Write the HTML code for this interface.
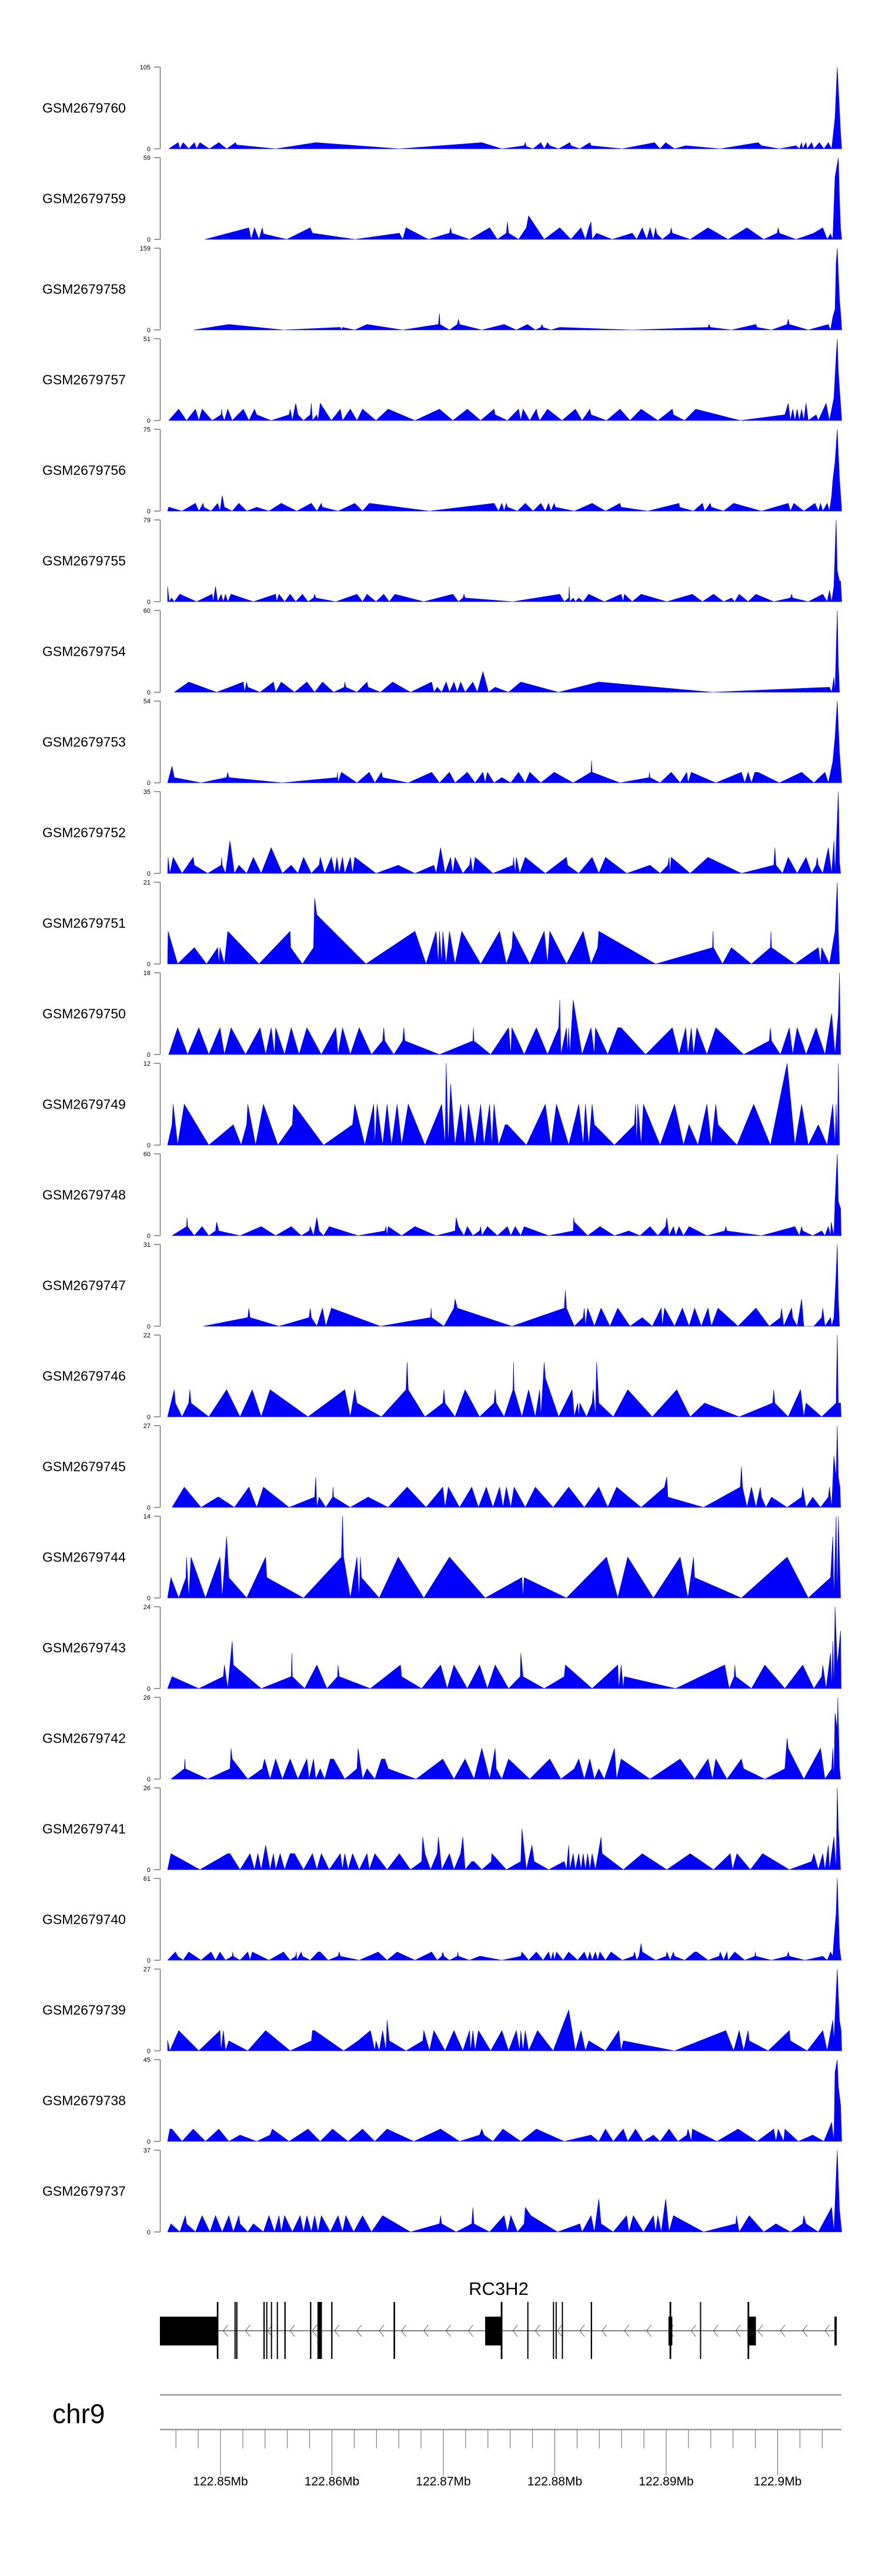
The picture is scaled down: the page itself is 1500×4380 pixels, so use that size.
<!DOCTYPE html>
<html><head><meta charset="utf-8"><title>Coverage tracks RC3H2</title>
<style>html,body{margin:0;padding:0;background:#fff}svg{display:block}text{font-family:"Liberation Sans",Arial,sans-serif}</style>
</head><body>
<svg id="chart" width="1500" height="4380" viewBox="0 0 1500 4380" xmlns="http://www.w3.org/2000/svg">
<rect x="0" y="0" width="1500" height="4380" fill="#fff"/>
<g id="tracks"></g>
<g id="gene"></g>
<g id="axis"></g>
</svg>
<script>
const sampleNames = ["GSM2679760","GSM2679759","GSM2679758","GSM2679757","GSM2679756","GSM2679755","GSM2679754","GSM2679753","GSM2679752","GSM2679751","GSM2679750","GSM2679749","GSM2679748","GSM2679747","GSM2679746","GSM2679745","GSM2679744","GSM2679743","GSM2679742","GSM2679741","GSM2679740","GSM2679739","GSM2679738","GSM2679737"];
const yMax = [105,59,159,51,75,79,60,54,35,21,18,12,60,31,22,27,14,24,26,26,61,27,45,37];
// coverage points: [kb offset from 122,845.25 kb, coverage]
const cov60 = [[0.1,0],[0.95,8],[1.1,0],[1.4,8],[1.9,0],[2.4,8],[2.6,0],[2.9,8],[3.75,0],[4.6,8],[5.3,0],[6.1,8],[6.2,5],[9.7,0],[13.3,8],[20.8,0],[28.2,8],[30,0],[32,4],[32.1,8],[32.2,3],[32.8,0],[33.5,8],[33.8,0],[34.1,8],[34.3,4],[35.1,0],[36.1,8],[36.2,4],[37,0],[37.9,8],[38,4],[40.8,0],[43.7,8],[44.2,0],[44.7,8],[45.5,0],[46.5,4],[49.6,0],[53,8],[53.3,4],[54.9,0],[56.4,4],[56.7,0],[56.9,8],[57,0],[57.3,8],[57.4,0],[57.8,8],[58,0],[58.5,8],[58.9,0],[59.3,8],[59.6,0],[59.9,40],[60.1,105],[60.3,50],[60.4,20],[60.5,0]];
const cov59 = [[3.35,0],[7.3,8.4],[7.5,0],[7.8,8.4],[8.2,0],[8.5,8.4],[8.6,4],[10.7,0],[12.8,8.4],[13,4.5],[16.8,0],[20.8,4.5],[21.1,0],[21.4,8.4],[23.4,0],[25.3,4.5],[25.4,8.4],[25.5,4.5],[27.1,0],[28.9,8.4],[29.6,0],[30.4,4.5],[30.5,12.7],[30.6,4.5],[31.5,0],[32.2,8.4],[32.4,17],[33.8,0],[35.2,8.4],[36.2,0],[37.1,8.4],[37.5,0],[37.8,8.4],[38,12.7],[38.1,0],[38.5,4.5],[39.9,0],[41.7,4.5],[42.1,0],[42.6,8.4],[43,0],[43.3,8.4],[43.6,0],[43.8,8.4],[43.9,4],[44.4,0],[45.1,4.5],[45.2,8.4],[45.3,4.5],[46.9,0],[48.5,8.4],[50.3,0],[52,8.4],[53.5,0],[54.7,4.5],[54.8,8.4],[54.9,4.5],[56.4,0],[58,4.5],[58.8,8.4],[59.2,0],[59.5,4],[59.7,0],[59.9,45],[60.2,59],[60.3,30],[60.4,8],[60.5,0]];
const cov58 = [[2.35,0],[5.5,10.7],[10.4,0],[15.5,5],[15.6,0],[15.7,5],[16.8,0],[17.9,10.7],[21.1,0],[24.3,10.7],[24.4,32],[24.45,10.7],[25.3,0],[26,10.7],[26.1,21],[26.2,10.7],[28.2,0],[30.2,10.7],[31.3,0],[32.3,10.7],[33,0],[33.5,5],[33.6,10.7],[33.7,5],[34.4,0],[35.2,5],[41.7,0],[48.5,5],[48.6,10.7],[48.7,5],[50.6,0],[52.8,10.7],[52.9,5],[54.2,0],[55.6,10.7],[55.7,21],[55.8,10.7],[57.5,0],[59.3,10.7],[59.5,0],[59.7,25],[59.9,40],[60,130],[60.1,159],[60.3,60],[60.45,20],[60.5,0]];
const cov57 = [[0.1,0],[1,7.1],[1.7,0],[2.5,7.1],[2.8,0],[3.1,7.1],[4,0],[4.8,3.6],[4.85,7.1],[4.9,3.6],[5.1,0],[5.4,7.1],[5.8,0],[6.8,7.1],[7.3,0],[7.8,7.1],[8,3.6],[9.3,0],[10.9,3.6],[11,7.1],[11.2,0],[11.5,10.8],[11.7,3.6],[12.2,0],[12.8,3.6],[12.9,10.8],[13,0],[13.4,3.6],[13.5,0],[13.7,10.8],[14.7,0],[15.5,7.1],[15.7,0],[16.4,7.1],[17,0],[17.5,7.1],[18.7,0],[19.8,7.1],[22.2,0],[24.4,7.1],[25.6,0],[26.9,7.1],[28.1,0],[29.3,7.1],[29.4,3.6],[30.5,0],[31.5,7.1],[31.7,0],[31.9,7.1],[32.5,0],[33.1,7.1],[33.2,3.6],[33.4,0],[34.1,7.1],[35.4,0],[36.6,7.1],[37.2,0],[37.9,7.1],[38,3.6],[39.4,0],[40.6,7.1],[41.5,0],[42.5,7.1],[44,0],[45.3,7.1],[45.4,3.6],[46.4,0],[47.4,7.1],[51.4,0],[55.4,3.6],[55.7,10.8],[55.9,0],[56.1,7.1],[56.3,0],[56.5,7.1],[56.7,0],[56.9,7.1],[57.1,0],[57.3,10.8],[57.5,0],[58.2,3.6],[58.4,0],[59.1,10.8],[59.4,0],[59.8,14],[60,40],[60.1,51],[60.2,30],[60.4,10],[60.5,0]];
const cov56 = [[0,0],[0.1,3.6],[1.3,0],[2.5,7.2],[2.8,0],[3.2,7.2],[3.25,3.6],[3.9,0],[4.5,7.2],[4.7,0],[4.9,14.3],[5.1,3.6],[5.8,0],[6.4,7.2],[7.1,0],[8,3.6],[9.1,0],[10.2,7.2],[11.6,0],[12.9,7.2],[13.4,0],[13.8,7.2],[13.9,3.6],[15.3,0],[16.8,7.2],[17.5,0],[18.1,7.2],[23.5,0],[29.3,7.2],[29.7,0],[30,7.2],[30.2,0],[30.4,7.2],[30.5,3.6],[31.4,0],[32.1,7.2],[32.8,0],[33.5,7.2],[33.9,0],[34.2,7.2],[34.4,0],[34.7,7.2],[34.8,3.6],[36.5,0],[38.1,7.2],[39.3,0],[40.6,7.2],[40.7,3.6],[43.1,0],[45.9,7.2],[45.95,3.6],[47.2,0],[48,7.2],[48.2,0],[48.7,7.2],[48.8,3.6],[49.9,0],[50.8,7.2],[53.3,0],[55.7,7.2],[55.9,0],[56.2,7.2],[57.1,0],[58.1,7.2],[58.4,0],[58.6,7.2],[58.8,0],[59.2,7.2],[59.4,0],[59.6,14],[59.7,28],[59.9,45],[60.1,75],[60.3,30],[60.5,0]];
const cov55 = [[0,14.7],[0.15,0],[0.35,3.6],[0.6,0],[1.1,7.2],[2.6,0],[4,7.2],[4.1,0],[4.3,14.7],[4.5,0],[4.8,7.2],[5,0],[5.2,7.2],[5.4,0],[5.7,7.2],[7.7,0],[9.7,7.2],[9.8,0],[10,7.2],[10.5,0],[11,7.2],[11.5,0],[12.1,7.2],[12.6,0],[13.1,3.6],[13.2,7.2],[13.3,3.6],[15.1,0],[17,7.2],[17.5,0],[17.9,7.2],[18.7,0],[19.4,7.2],[19.9,0],[20.4,7.2],[23,0],[25.6,7.2],[26.1,0],[26.5,3.6],[26.6,7.2],[26.7,3.6],[31,0],[35.2,7.2],[35.6,0],[36,3.6],[36.05,14.7],[36.1,0],[36.4,3.6],[36.6,0],[36.9,3.6],[37.3,0],[37.8,7.2],[39.2,0],[40.7,7.2],[40.9,0],[41,7.2],[41.7,0],[42.5,7.2],[44.8,0],[47.1,7.2],[48,0],[49,7.2],[49.9,0],[50.6,3.6],[50.9,0],[51.3,7.2],[52.1,0],[52.8,7.2],[54.4,0],[55.9,3.6],[56,7.2],[56.1,3.6],[57.5,0],[58.8,7.2],[59.2,0],[59.4,11],[59.6,0],[59.8,14.7],[60,79],[60.1,30],[60.3,20],[60.4,20],[60.5,0]];
const cov54 = [[0.6,0],[1.9,7.5],[4.4,0],[6.8,7.5],[6.9,0],[7.1,7.5],[7.2,3.7],[8.3,0],[9.5,7.5],[9.7,0],[10.2,7.5],[11.4,0],[12.5,7.5],[13.2,0],[13.9,7.5],[14.9,0],[15.85,3.7],[15.9,7.5],[16,3.7],[17,0],[17.9,7.5],[18,3.7],[19.1,0],[20.2,7.5],[21.8,0],[23.7,7.5],[23.9,0],[24.2,3.7],[24.6,0],[25,7.5],[25.3,0],[25.7,7.5],[26,0],[26.3,7.5],[26.7,0],[27.4,7.5],[27.8,0],[28.3,15.2],[28.8,0],[29.4,3.7],[30.6,0],[31.7,7.5],[35.1,0],[38.7,7.5],[48.9,0],[59.4,3.7],[59.6,0],[59.8,11],[59.9,0],[60.1,60],[60.2,20],[60.3,0]];
const cov53 = [[0,0],[0.4,11],[0.6,3.5],[3,0],[5.3,3.5],[5.4,7],[5.5,3.5],[10.3,0],[15.2,3.5],[15.25,7],[15.3,0],[15.6,7],[17,0],[18.1,7],[18.6,0],[19.2,7],[19.3,3.5],[21.6,0],[23.7,7],[24.4,0],[25.3,7],[25.8,0],[26.9,7],[27.6,0],[28.3,7],[28.5,0],[28.7,7],[29.3,0],[30,3.5],[30.8,0],[31.5,7],[32.1,0],[32.5,7],[33.5,0],[34.7,7],[36.4,0],[38,7],[38.05,14.7],[38.1,7],[40.6,0],[43.2,3.5],[43.25,7],[43.3,3.5],[44.2,0],[45.2,7],[46,0],[46.6,7],[46.7,0],[47,7],[49.2,0],[51.5,7],[51.8,0],[52.1,7],[52.4,0],[52.7,7],[53,7],[54.9,0],[56.9,7],[58,0],[59,7],[59.3,0],[59.7,14],[59.9,30],[60.1,54],[60.3,20],[60.5,0]];
const cov52 = [[0,0],[0.05,6.9],[0.2,0],[0.5,6.9],[1.3,0],[2.3,6.9],[2.4,3.5],[3.6,0],[4.8,3.5],[4.85,6.9],[4.9,3.5],[5.2,0],[5.6,14],[6,0],[6.4,3.5],[7.1,0],[7.7,6.9],[8.4,0],[9.3,11],[10.3,0],[11.1,3.5],[11.7,0],[12.2,6.9],[12.9,0],[13.6,3.5],[13.7,6.9],[14.1,0],[14.7,6.9],[15,0],[15.2,6.9],[15.4,0],[15.7,6.9],[15.9,0],[16.4,6.9],[16.6,0],[16.8,6.9],[18.7,0],[20.7,3.5],[22.2,0],[23.9,3.5],[24.1,0],[24.5,11],[24.9,0],[25.4,6.9],[25.6,0],[25.8,6.9],[26.5,0],[27.1,3.5],[27.2,6.9],[27.4,0],[27.6,6.9],[29.2,0],[31,3.5],[31.05,6.9],[31.2,0],[31.3,6.9],[31.6,0],[32.1,6.9],[33.9,0],[35.8,6.9],[35.9,3.5],[36.9,0],[38.1,6.9],[38.7,0],[39.3,6.9],[41.2,0],[43.3,3.5],[44.2,0],[44.9,3.5],[45,6.9],[45.1,0],[45.2,6.9],[46.9,0],[48.5,6.9],[51.5,0],[54.4,3.5],[54.5,11],[54.6,3.5],[55.2,0],[55.7,6.9],[56.5,0],[57.3,6.9],[57.8,0],[58.2,3.5],[58.3,6.9],[58.4,3.5],[58.8,0],[59.3,11],[59.6,0],[59.8,14],[59.9,0],[60.2,35],[60.3,5],[60.4,0]];
const cov51 = [[0,0],[0.05,8.4],[0.9,0],[2.4,4.2],[3.5,0],[4.5,4.2],[4.6,0],[4.7,4.2],[5.1,0],[5.4,8.4],[8.2,0],[11,8.4],[11.05,4.2],[12.1,0],[13.1,4.2],[13.2,16.9],[13.4,12.6],[17.8,0],[22.2,8.4],[23.2,0],[24.1,8.4],[24.3,0],[24.4,8.4],[24.6,0],[24.7,8.4],[25,0],[25.3,8.4],[25.8,0],[26.4,8.4],[28.1,0],[29.8,8.4],[30.4,0],[30.9,4.2],[31,8.4],[32.5,0],[33.8,8.4],[34.1,0],[34.3,8.4],[35.8,0],[37.3,8.4],[38,0],[38.6,4.2],[38.7,8.4],[43.8,0],[48.9,4.2],[48.95,8.4],[49,4.2],[49.8,0],[50.6,4.2],[52.4,0],[54.1,4.2],[54.15,8.4],[54.2,4.2],[56.3,0],[58.4,4.2],[58.6,0],[58.7,4.2],[59.4,0],[59.9,8.4],[60.1,21],[60.2,8.4],[60.3,0]];
const cov50 = [[0.1,0],[0.9,5.9],[1.8,0],[2.8,5.9],[3.7,0],[4.7,5.9],[5.1,0],[5.7,5.9],[7,0],[8.3,5.9],[8.8,0],[9.3,5.9],[9.6,0],[9.7,5.9],[10.5,0],[11.1,5.9],[11.8,0],[12.5,5.9],[13.8,0],[15.1,5.9],[15.3,0],[15.7,5.9],[16.4,0],[17.2,5.9],[18.3,0],[19.3,3],[19.4,5.9],[19.5,3],[20.3,0],[21.1,3],[21.2,5.9],[21.3,3],[24.4,0],[27.4,3],[27.45,5.9],[27.5,3],[29,0],[30.6,5.9],[30.8,0],[30.9,5.9],[32,0],[33.1,5.9],[34.1,0],[35.1,5.9],[35.2,12],[35.3,0],[35.8,5.9],[35.9,0],[36,5.9],[36.1,0],[36.4,12],[37.2,0],[38,5.9],[38.3,0],[38.4,5.9],[39.5,0],[40.4,5.9],[40.7,5.9],[42.9,0],[45.3,5.9],[45.9,0],[46.5,5.9],[46.7,0],[47,5.9],[47.2,0],[47.5,5.9],[48.4,0],[49.2,5.9],[51.7,0],[54,3],[54.1,5.9],[54.2,3],[55,0],[55.8,5.9],[56.1,0],[56.5,5.9],[57.3,0],[58.2,5.9],[59,0],[59.6,9],[59.9,0],[60.2,9],[60.3,18],[60.4,0]];
const cov49 = [[0,0],[0.4,3],[0.5,6],[0.9,0],[1.5,6],[3.7,0],[5.9,3],[6.6,0],[7.1,3],[7.2,6],[7.9,0],[8.6,6],[9.9,0],[11.2,3],[11.3,6],[14,0],[16.6,3],[16.8,6],[17.7,0],[18.5,6],[18.6,0],[18.8,6],[19.3,0],[19.7,6],[20.1,0],[20.6,6],[21,0],[21.6,6],[23.1,0],[24.6,6],[24.9,0],[25,12],[25.2,0],[25.4,9],[25.8,0],[26.3,6],[26.7,0],[27,6],[27.6,0],[28.1,6],[28.4,0],[28.9,6],[29.1,0],[29.3,6],[29.7,0],[30.3,3],[30.5,3],[32.2,0],[33.9,6],[34.4,0],[34.9,6],[36,0],[36.9,6],[37.3,0],[37.5,6],[37.8,0],[38.1,6],[38.3,3],[40.1,0],[41.9,3],[42,6],[42.1,0],[42.2,6],[42.5,0],[42.7,6],[44.2,0],[45.5,6],[46.3,0],[46.8,3],[47.6,0],[48.4,6],[48.8,0],[49.2,6],[49.4,3],[51.1,0],[52.6,6],[54.1,0],[55.6,12],[56.3,0],[56.9,6],[57.5,0],[58.4,3],[59.2,0],[59.7,6],[59.9,0],[60,6],[60.1,0],[60.2,12],[60.3,0]];
const cov48 = [[0.4,0],[1.7,6.7],[1.75,13.3],[1.8,6.7],[2.4,0],[3.1,6.7],[3.7,0],[4.3,3.5],[4.4,10],[4.6,3.5],[6.5,0],[8.4,6.7],[9.7,0],[11.1,6.7],[12,0],[12.7,3.5],[12.8,6.7],[13.1,0],[13.4,13.3],[13.6,3.5],[14,0],[14.5,6.7],[17.1,0],[19.5,3.5],[19.6,6.7],[19.7,0],[19.8,6.7],[21,0],[22.2,6.7],[24.1,0],[25.8,3.5],[25.9,13.3],[26.1,6.7],[26.6,0],[26.9,6.7],[27.4,0],[28,3.5],[28.1,6.7],[28.2,0],[28.7,6.7],[29.6,0],[30.5,6.7],[30.8,0],[31.2,6.7],[31.7,0],[32,6.7],[34.2,0],[36.4,3.5],[36.45,13.3],[36.5,10],[37.7,0],[38.8,6.7],[40.1,0],[41.4,3.5],[42.4,0],[43.3,6.7],[44,0],[44.7,6.7],[44.8,13.3],[45,0],[45.4,6.7],[45.6,0],[45.9,6.7],[46.3,0],[46.8,6.7],[48.4,0],[50,3.5],[50.1,6.7],[50.2,3.5],[53.3,0],[56.3,6.7],[56.7,0],[56.9,6.7],[57,3.5],[57.9,0],[58.7,3.5],[59,0],[59.3,6.7],[59.5,0],[59.55,10],[59.8,0],[59.9,25],[60.1,60],[60.2,25],[60.4,20],[60.45,0]];
const cov47 = [[3.2,0],[7.2,3.3],[7.3,6.9],[7.4,3.3],[10,0],[12.7,3.3],[12.8,6.9],[12.9,3.3],[13.4,0],[13.9,6.9],[14.2,0],[14.7,6.9],[19.1,0],[23.6,3.3],[23.65,6.9],[23.7,3.3],[24.8,0],[25.7,6.9],[25.8,10.3],[26,6.9],[30.9,0],[35.6,6.9],[35.7,13.7],[35.8,6.9],[36.5,0],[37.3,3.3],[37.4,6.9],[37.5,0],[37.7,6.9],[38.3,0],[38.9,6.9],[39.7,0],[40.4,6.9],[41.5,0],[42.6,3.3],[43.5,0],[44.3,6.9],[44.4,0],[44.6,6.9],[45.5,0],[46.2,6.9],[46.8,0],[47.3,6.9],[47.9,0],[48.5,6.9],[48.8,0],[49.4,6.9],[51.2,0],[52.8,6.9],[54,0],[55,3.3],[55.1,6.9],[55.3,0],[56,6.9],[56.1,3.3],[56.5,0],[56.9,10.3],[57.1,0],[58,0],[58.7,3.3],[58.8,6.9],[59,0],[59.5,3.3],[59.6,0],[59.8,3.3],[60,20],[60.1,31],[60.2,10],[60.3,0]];
const cov46 = [[0,0],[0.6,7.3],[0.7,3.7],[1.3,0],[1.9,3.7],[2,7.3],[2.1,3.7],[3.7,0],[5.3,7.3],[6.5,0],[7.6,7.3],[8.4,0],[9.2,7.3],[12.6,0],[15.9,7.3],[16.4,0],[16.8,7.3],[17,3.7],[19.2,0],[21.4,7.3],[21.5,14.7],[21.6,7.3],[23.1,0],[24.7,3.7],[24.8,7.3],[24.9,3.7],[25.8,0],[26.7,7.3],[28,0],[29.3,3.7],[29.4,7.3],[29.5,3.7],[30.2,0],[31,7.3],[31.05,14.7],[31.1,7.3],[31.8,0],[32.4,7.3],[33,0],[33.4,7.3],[33.5,0],[33.8,14.7],[33.9,10.5],[35.1,0],[36.3,7.3],[36.5,0],[36.8,3.7],[36.9,0],[37,3.7],[37.6,0],[38.1,3.7],[38.2,7.3],[38.4,0],[38.5,14.7],[38.7,3.7],[40,0],[41.3,7.3],[43.5,0],[45.7,7.3],[46.9,0],[48.2,3.7],[51.3,0],[54.3,3.7],[54.4,7.3],[54.5,3.7],[55.7,0],[56.8,7.3],[57.1,0],[57.3,3.7],[58.7,0],[60,3.7],[60.1,22],[60.2,3.7],[60.4,3.7],[60.45,0]];
const cov45 = [[0.4,0],[1.5,6.7],[3,0],[4.5,3.4],[4.6,3.4],[6,0],[7.3,6.7],[8,0],[8.6,6.7],[10.9,0],[13.2,3.4],[13.3,10.1],[13.4,0],[13.6,3.4],[14.2,0],[14.8,3.4],[14.85,6.7],[14.9,3.4],[16.4,0],[18,3.4],[19.8,0],[21.5,6.7],[23.2,0],[24.7,6.7],[24.9,0],[25.2,6.7],[26.2,0],[27.3,6.7],[27.9,0],[28.6,6.7],[29.2,0],[29.8,6.7],[30.1,0],[30.4,6.7],[30.8,0],[31.1,6.7],[32.1,0],[33,6.7],[34.6,0],[36,6.7],[37.4,0],[38.7,6.7],[39.5,0],[40.3,6.7],[42.5,0],[44.6,6.7],[44.8,10.1],[44.9,3.4],[48.1,0],[51.4,6.7],[51.5,13.5],[51.6,6.7],[52,0],[52.4,6.7],[52.8,0],[53.2,6.7],[53.3,3.4],[53.7,0],[54.2,3.4],[55.6,0],[56.9,3.4],[57,6.7],[57.3,0],[57.9,3.4],[58.6,0],[59.3,3.4],[59.4,6.7],[59.6,0],[59.8,16.9],[60,10],[60.1,27],[60.2,10],[60.35,6.7],[60.4,0]];
const cov44 = [[0,0],[0.3,3.5],[1,0],[1.65,3.5],[1.7,7],[1.9,0],[2.1,7],[3.4,0],[4.7,7],[4.9,0],[5.3,10.5],[5.5,3.5],[7.1,0],[8.8,7],[8.9,3.5],[12.2,0],[15.6,7],[15.7,14],[15.8,7],[16.4,0],[17,7],[17.2,0],[17.3,7],[17.4,3.5],[19,0],[20.7,7],[23,0],[25.3,7],[28.5,0],[31.8,3.5],[31.9,0],[32,3.5],[35.8,0],[39.4,7],[40.4,0],[41.3,7],[43.6,0],[46,7],[46.7,0],[47.2,7],[47.3,3.5],[51.5,0],[55.6,7],[57.5,0],[59.5,3.5],[59.7,10.5],[59.8,0],[60,14],[60.1,0],[60.2,14],[60.35,3.5],[60.4,0]];
const cov43 = [[0,0],[0.4,3.5],[2.8,0],[5,3.5],[5.1,6.9],[5.4,0],[5.8,13.9],[5.9,6.9],[8.4,0],[11.1,3.5],[11.15,10.4],[11.2,3.5],[12.3,0],[13.4,6.9],[14.3,0],[15.25,3.5],[15.3,6.9],[15.4,3.5],[18.2,0],[20.9,6.9],[21,3.5],[22.8,0],[24.5,6.9],[25.1,0],[25.7,6.9],[26.9,0],[28,6.9],[28.7,0],[29.4,6.9],[30.6,0],[31.65,3.5],[31.7,10.4],[31.9,3.5],[33.8,0],[35.6,3.5],[35.7,6.9],[38.1,0],[40.4,6.9],[40.5,0],[40.7,6.9],[40.9,0],[41,3.5],[45.6,0],[50,6.9],[50.4,0],[50.85,3.5],[50.9,6.9],[51,3.5],[52.4,0],[53.6,6.9],[55.4,0],[57,6.9],[58,0],[58.7,3.5],[58.8,6.9],[59.1,0],[59.5,10.4],[59.6,0],[59.7,13.9],[59.8,0],[59.9,24],[60.1,6.9],[60.2,10],[60.4,17],[60.45,0]];
const cov42 = [[0.3,0],[1.5,3.3],[1.55,6.4],[1.6,3.3],[3.6,0],[5.6,3.3],[5.7,9.8],[5.8,6.4],[7.2,0],[8.5,3.3],[8.7,6.4],[9.2,0],[9.7,6.4],[10.3,0],[11,6.4],[11.7,0],[12.5,6.4],[12.7,0],[13.1,6.4],[13.3,0],[13.7,3.3],[14.1,0],[14.6,6.4],[14.9,6.4],[15.9,0],[17,3.3],[17.1,9.8],[17.5,0],[17.9,3.3],[18.6,0],[19.2,6.4],[19.5,6.4],[19.8,3.3],[22.3,0],[24.7,6.4],[25.7,0],[26.7,6.4],[27.5,0],[28.2,9.8],[28.9,0],[29.4,9.8],[29.5,3.3],[30,0],[30.6,6.4],[32.5,0],[34.3,6.4],[35.3,0],[36.5,3.3],[36.9,6.4],[37.4,0],[37.9,6.4],[38.3,0],[38.7,3.3],[39.2,0],[39.8,6.4],[40.1,9.8],[40.3,0],[40.7,6.4],[43.3,0],[46,6.4],[47.3,0],[48.5,6.4],[48.9,0],[49.2,6.4],[50.2,0],[51.5,6.4],[51.7,3.3],[53.6,0],[55.4,3.3],[55.6,13],[55.7,9.8],[57.1,0],[58.6,9.8],[59,0],[59.6,3.3],[59.7,9.8],[59.8,0],[59.9,21],[60.1,16],[60.15,26],[60.3,3.3],[60.4,0]];
const cov41 = [[0,0],[0.3,5.1],[2.9,0],[5.4,5.1],[5.6,5.1],[6.5,0],[7.4,5.1],[7.8,0],[8.1,5.1],[8.4,0],[8.8,7.8],[9.2,0],[9.5,5.1],[9.7,0],[10.1,5.1],[10.5,0],[11,5.1],[11.1,5.1],[11.4,5.1],[12.2,0],[13,5.1],[13.4,0],[13.8,5.1],[14.5,0],[15.5,5.1],[15.7,0],[15.9,5.1],[16.2,0],[16.6,5.1],[17.2,0],[17.9,5.1],[18.1,0],[18.6,5.1],[19.7,0],[20.8,5.1],[21.8,0],[22.8,2.6],[22.9,10.4],[23.1,5.1],[23.6,0],[24.2,5.1],[24.3,10.4],[24.6,0],[25.3,5.1],[25.7,0],[26.3,5.1],[26.5,10.4],[26.7,0],[27.3,2.6],[27.5,2.6],[28.2,0],[29.05,2.6],[29.1,5.1],[30.4,0],[31.7,2.6],[31.8,13],[32.2,0],[32.7,7.8],[32.9,2.6],[34.2,0],[35.6,2.6],[35.8,0],[36,7.8],[36.1,0],[36.4,5.1],[36.6,0],[36.9,5.1],[37.1,0],[37.3,5.1],[37.5,0],[37.7,5.1],[37.9,0],[38.1,5.1],[38.4,0],[38.9,10.4],[39,5.1],[40.9,0],[42.6,5.1],[44.8,0],[46.9,5.1],[49,0],[50.5,5.1],[50.7,0],[51.1,5.1],[52.3,0],[53.4,5.1],[55.8,0],[57.8,2.6],[58,5.1],[58.4,0],[58.8,5.1],[59,0],[59.3,7.8],[59.4,0],[59.8,10.4],[60,0],[60.1,26],[60.2,13],[60.4,0]];
const cov40 = [[0,0],[0.7,6.2],[0.9,3],[1.4,0],[1.9,6.2],[3,0],[3.9,6.2],[4.3,0],[4.7,6.2],[5.2,0],[5.8,3],[5.85,6.2],[5.9,3],[6.5,0],[7.2,6.2],[7.4,0],[7.6,6.2],[9.1,0],[10.4,6.2],[11,0],[11.5,3],[11.55,6.2],[11.6,0],[12,6.2],[12.1,3],[12.8,0],[13.5,6.2],[13.7,6.2],[14.4,0],[15.3,3],[15.4,6.2],[15.5,3],[17.2,0],[18.9,6.2],[19.7,0],[20.6,6.2],[22.2,0],[23.7,6.2],[24.2,0],[24.6,3],[24.7,6.2],[24.8,3],[25.3,0],[26,3],[26.05,6.2],[26.1,3],[27.1,0],[28,3],[28.1,3],[30,0],[31.7,3],[31.8,6.2],[32.4,0],[33.1,6.2],[33.7,0],[34.2,6.2],[34.4,0],[34.6,6.2],[34.7,0],[34.9,6.2],[35.5,0],[36,6.2],[36.8,0],[37.4,6.2],[37.7,0],[37.9,6.2],[38.1,0],[38.4,6.2],[38.6,0],[38.8,6.2],[39.3,0],[39.8,6.2],[40.8,0],[41.8,3],[41.9,6.2],[42.1,0],[42.3,3],[42.5,12.5],[42.6,6.2],[43.8,0],[44.75,3],[44.8,6.2],[45.1,0],[45.4,6.2],[45.5,3],[46.4,0],[47.3,6.2],[47.5,6.2],[48.5,0],[49.5,3],[49.6,6.2],[49.9,0],[50.2,6.2],[50.3,0],[50.9,6.2],[51.8,0],[52.7,3],[52.75,6.2],[52.8,3],[54.2,0],[55.6,3],[55.7,6.2],[55.8,3],[57.2,0],[58.8,3],[59.2,0],[59.5,6.2],[59.7,3],[59.8,15],[60,35],[60.1,61],[60.3,10],[60.4,3],[60.45,0]];
const cov39 = [[0,3.5],[0.2,0],[1,6.7],[2.8,0],[4.7,6.7],[4.8,0],[5,6.7],[5.2,0],[5.5,3.3],[7.2,0],[8.8,6.7],[11,0],[12.9,3.3],[13,6.7],[13.2,6.7],[15.8,0],[17.1,3.3],[18.2,6.7],[18.6,0],[18.7,3.3],[19,0],[19.3,6.7],[19.6,0],[19.7,10.1],[19.9,3.3],[21.4,0],[22.9,3.3],[23,6.7],[23.5,0],[23.9,6.7],[24.9,0],[25.7,6.7],[26.5,0],[27.1,6.7],[27.2,0],[27.4,6.7],[27.6,0],[27.9,6.7],[29,0],[30,6.7],[30.6,0],[31.3,6.7],[31.6,0],[31.7,6.7],[31.9,0],[32.1,6.7],[32.4,0],[33.2,6.7],[34.6,0],[36,13.5],[36.6,0],[37.1,6.7],[37.5,0],[37.8,3.3],[39.3,0],[40.5,6.7],[40.7,0],[40.9,3.3],[45.5,0],[50.1,6.7],[50.8,0],[51.3,6.7],[51.7,0],[52.1,6.7],[52.2,3.3],[53.9,0],[55.8,6.7],[55.9,3.3],[57.4,0],[58.8,6.7],[59.2,0],[59.7,10.1],[59.8,3.3],[60.1,27],[60.3,10],[60.45,6.7],[60.5,0]];
const cov38 = [[0,0],[0.2,6.8],[0.4,6.8],[1.3,0],[2.3,6.8],[3.4,0],[4.6,6.8],[5.5,0],[6.5,3.5],[8,0],[9.2,3.5],[9.4,6.8],[10.9,0],[12.6,6.8],[13.7,0],[14.8,6.8],[16.2,0],[17.5,6.8],[18.6,0],[19.7,6.8],[22.1,0],[24.5,6.8],[26.2,0],[28,3.5],[28.2,6.8],[28.4,3.5],[29.2,0],[30.1,6.8],[31.7,0],[33.1,6.8],[35.6,0],[38,3.5],[38.7,0],[39.3,6.8],[40,0],[40.9,6.8],[41.3,0],[42,6.8],[42.7,0],[43.6,3.5],[44.2,0],[45,6.8],[45.8,0],[46.6,3.5],[46.7,6.8],[47,0],[47.1,6.8],[49.3,0],[51.2,6.8],[52.9,0],[54.4,6.8],[54.6,0],[54.8,6.8],[55.3,0],[55.4,6.8],[56.6,0],[57.9,3.5],[58.9,0],[59.6,10.5],[59.8,0],[59.9,38],[60.1,45],[60.2,30],[60.4,20],[60.5,0]];
const cov37 = [[0,0],[0.3,3.7],[1.1,0],[1.6,7.4],[1.7,3.7],[2.5,0],[3.1,7.4],[3.8,0],[4.3,7.4],[4.9,0],[5.5,7.4],[5.9,0],[6.4,7.4],[6.5,3.7],[7.2,0],[7.7,3.7],[8.6,0],[9.1,7.4],[9.6,0],[10,7.4],[10.2,0],[10.5,7.4],[11.2,0],[11.9,7.4],[12.2,0],[12.5,7.4],[12.9,0],[13.2,7.4],[13.5,0],[13.8,7.4],[14.6,0],[15.3,7.4],[15.7,0],[16,7.4],[16.7,0],[17.5,7.4],[18.3,0],[19.3,7.4],[21.8,0],[24.4,3.7],[24.5,7.4],[24.6,3.7],[25.9,0],[27.3,3.7],[27.4,11.1],[27.5,3.7],[28.9,0],[30.2,7.4],[30.5,0],[30.8,7.4],[31.4,0],[32,3.7],[32.1,11.1],[32.6,7.4],[35,0],[37,3.7],[37.2,0],[38,7.4],[38.3,0],[38.7,14.9],[38.9,3.7],[40,0],[41.2,7.4],[41.4,0],[41.8,7.4],[42.7,0],[43.6,7.4],[43.8,0],[44,7.4],[44.3,0],[44.7,14.9],[45,0],[45.4,7.4],[48.1,0],[51,3.7],[51.05,7.4],[51.3,0],[52.2,7.4],[53.5,0],[54.6,3.7],[55.9,0],[57,3.7],[57.1,7.4],[57.3,3.7],[58.4,0],[59.6,11.1],[59.8,0],[60,25],[60.1,37],[60.3,10],[60.5,0]];
const coverage = [cov60,cov59,cov58,cov57,cov56,cov55,cov54,cov53,cov52,cov51,cov50,cov49,cov48,cov47,cov46,cov45,cov44,cov43,cov42,cov41,cov40,cov39,cov38,cov37];

// gene model (kb offsets)
const utrStart = [-0.69, 28.5, 44.95, 52.05, 59.85];
const utrEnd   = [4.49, 30.05, 45.3, 52.8, 60.05];
const cdsStart = [4.42, 6.0, 6.15, 8.6, 8.85, 9.27, 9.8, 10.48, 12.78, 13.45, 14.68, 20.28, 29.9, 32.28, 34.58, 34.82, 35.38, 37.98, 45.05, 47.78, 52.05];
const cdsEnd   = [4.56, 6.1, 6.27, 8.72, 8.95, 9.37, 9.9, 10.6, 12.9, 13.85, 14.8, 20.42, 30.05, 32.38, 34.68, 34.92, 35.48, 38.1, 45.2, 47.88, 52.2];
const geneName = "RC3H2";
// genome axis
const majorTicks = [122.85,122.86,122.87,122.88,122.89,122.90];
const majorLabels = ["122.85Mb","122.86Mb","122.87Mb","122.88Mb","122.89Mb","122.9Mb"];
const minorTickStart = 122.846, minorTickEnd = 122.904, minorTickStep = 0.002;
const chromName = "chr9";

const NS = "http://www.w3.org/2000/svg";
const X0 = 285, PXKB = 18.95, REGION_START_KB = 122845.25;
const PANEL_TOP = 114, PANEL_PITCH = 154, PANEL_H = 139;
function xKb(k){ return X0 + k*PXKB; }
function xMb(mb){ return X0 + (mb*1000 - REGION_START_KB)*PXKB; }
function mk(tag, attrs, parent){ const e=document.createElementNS(NS,tag); for(const k in attrs) e.setAttribute(k,attrs[k]); parent.appendChild(e); return e; }

const tracksG = document.getElementById('tracks');
coverage.forEach((pts, i) => {
  const top = PANEL_TOP + i*PANEL_PITCH, base = top + PANEL_H, mx = yMax[i];
  const yv = v => base - Math.min(v, mx)/mx*PANEL_H;
  const g = mk('g', {}, tracksG);
  
  
  const lab = mk('text', {x:72, y:top+PANEL_H/2+8, 'font-size':23, fill:'#000'}, g);
  lab.textContent = sampleNames[i];
  
  
  const ax = mk('line', {x1:272.5, y1:top, x2:272.5, y2:base, stroke:'#777', 'stroke-width':1.5}, g);
  
  
  [[top, String(mx)], [base, "0"]].forEach(([ty, tl]) => {
    const tk = mk('line', {x1:262, y1:ty, x2:272.5, y2:ty, stroke:'#777', 'stroke-width':1.5}, g);
    
    
    const tt = mk('text', {x:256, y:ty+4, 'font-size':11, 'text-anchor':'end', fill:'#000'}, g);
    tt.textContent = tl;
    
    
  });
  let d = 'M' + xKb(pts[0][0]).toFixed(1) + ',' + base;
  pts.forEach(p => { d += 'L' + xKb(p[0]).toFixed(1) + ',' + yv(p[1]).toFixed(1); });
  d += 'L' + xKb(pts[pts.length-1][0]).toFixed(1) + ',' + base + 'Z';
  const area = mk('path', {d:d, fill:'#0000ff', stroke:'#0000ff', 'stroke-width':0.6, 'stroke-linejoin':'miter'}, g);
  
  
});

// gene model
const geneG = document.getElementById('gene');
const GY = 3963;
const intron = mk('line', {x1:xKb(utrEnd[0]), y1:GY, x2:xKb(utrStart[4]), y2:GY, stroke:'#333', 'stroke-width':1.2}, geneG);


for (let k = 5.2; k < 59.5; k += 2.0) {
  const cx = xKb(k);
  const ch = mk('path', {d:`M${cx+4},${GY-10}L${cx-4},${GY}L${cx+4},${GY+10}`, fill:'none', stroke:'#555', 'stroke-width':1}, geneG);
  
  
}
utrStart.forEach((s, i) => {
  const r = mk('rect', {x:xKb(s), y:3939, width:xKb(utrEnd[i])-xKb(s), height:49, fill:'#000'}, geneG);
  
  
});
cdsStart.forEach((s, i) => {
  const r = mk('rect', {x:xKb(s), y:3914, width:Math.max(2, xKb(cdsEnd[i])-xKb(s)), height:97, fill:'#000'}, geneG);
  
  
});
const gl = mk('text', {x:848, y:3902, 'font-size':31, 'text-anchor':'middle', fill:'#000'}, geneG);
gl.textContent = geneName;



// genome axis
const axG = document.getElementById('axis');
const l1 = mk('line', {x1:272, y1:4072, x2:1431, y2:4072, stroke:'#999', 'stroke-width':2.5}, axG);


const l2 = mk('line', {x1:272, y1:4131, x2:1431, y2:4131, stroke:'#999', 'stroke-width':2.5}, axG);


for (let mb = minorTickStart; mb <= minorTickEnd + 1e-9; mb += minorTickStep) {
  const t = mk('line', {x1:xMb(mb), y1:4131, x2:xMb(mb), y2:4163, stroke:'#666', 'stroke-width':1}, axG);
  
  
}
majorTicks.forEach((mb, i) => {
  const t = mk('line', {x1:xMb(mb), y1:4131, x2:xMb(mb), y2:4209, stroke:'#666', 'stroke-width':1}, axG);
  
  
  const tl = mk('text', {x:xMb(mb), y:4226, 'font-size':21, 'text-anchor':'middle', fill:'#000'}, axG);
  tl.textContent = majorLabels[i];
  
  
});
const chr = mk('text', {x:89, y:4120, 'font-size':46, fill:'#000'}, axG);
chr.textContent = chromName;


</script>
</body></html>
